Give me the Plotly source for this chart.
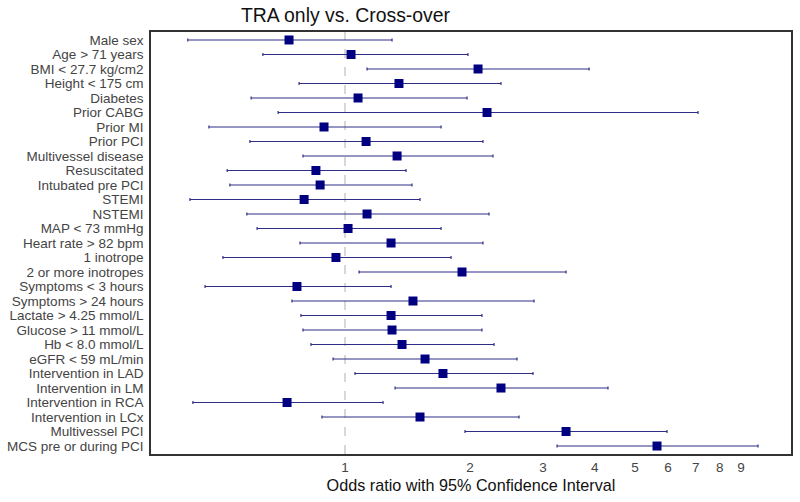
import plotly.graph_objects as go

labels = ["Male sex", "Age > 71 years", "BMI < 27.7 kg/cm2", "Height < 175 cm", "Diabetes",
          "Prior CABG", "Prior MI", "Prior PCI", "Multivessel disease", "Resuscitated",
          "Intubated pre PCI", "STEMI", "NSTEMI", "MAP < 73 mmHg", "Heart rate > 82 bpm",
          "1 inotrope", "2 or more inotropes", "Symptoms < 3 hours", "Symptoms > 24 hours",
          "Lactate > 4.25 mmol/L", "Glucose > 11 mmol/L", "Hb < 8.0 mmol/L", "eGFR < 59 mL/min",
          "Intervention in LAD", "Intervention in LM", "Intervention in RCA", "Intervention in LCx",
          "Multivessel PCI", "MCS pre or during PCI"]

odds = [0.733, 1.034, 2.092, 1.349, 1.075, 2.199, 0.890, 1.124, 1.335, 0.851,
        0.871, 0.797, 1.130, 1.017, 1.291, 0.951, 1.914, 0.766, 1.458,
        1.291, 1.298, 1.372, 1.559, 1.722, 2.376, 0.725, 1.516, 3.409, 5.647]
ci_low = [0.418, 0.634, 1.130, 0.775, 0.594, 0.690, 0.470, 0.590, 0.792, 0.520,
          0.528, 0.423, 0.580, 0.614, 0.779, 0.508, 1.081, 0.460, 0.745,
          0.783, 0.792, 0.828, 0.936, 1.057, 1.320, 0.430, 0.880, 1.946, 3.243]
ci_high = [1.298, 1.978, 3.873, 2.376, 1.968, 7.09, 1.704, 2.150, 2.273, 1.403,
           1.450, 1.516, 2.223, 1.704, 2.150, 1.801, 3.409, 1.291, 2.854,
           2.138, 2.138, 2.286, 2.597, 2.838, 4.302, 1.235, 2.626, 5.970, 9.89]

tick_vals = [1, 2, 3, 4, 5, 6, 7, 8, 9]
tick_text = ["1", "2", "3", "4", "5", "6", "7", "8", "9"]

err_plus = [h - o for h, o in zip(ci_high, odds)]
err_minus = [o - l for o, l in zip(odds, ci_low)]

FONT = "Liberation Sans, Arial, sans-serif"

fig = go.Figure()
fig.add_trace(go.Scatter(
    x=odds, y=labels, mode="markers",
    marker=dict(symbol="square", size=9, color="#000080"),
    error_x=dict(type="data", array=err_plus, arrayminus=err_minus,
                 color="#2e2e88", thickness=1.2, width=1.5),
    showlegend=False, hoverinfo="x+y",
))

fig.add_shape(type="line", xref="x", yref="paper", x0=1, x1=1, y0=0, y1=1,
              line=dict(color="#b0b0b0", width=1, dash="dash"), layer="below")

fig.update_layout(
    width=800, height=502,
    margin=dict(l=151, r=9, t=32, b=48),
    paper_bgcolor="white", plot_bgcolor="white",
    font=dict(family=FONT, color="#333333"),
    title=dict(text="TRA only vs. Cross-over", x=345.5/800, xanchor="center",
               y=1 - 15/502, yanchor="middle", yref="container",
               font=dict(size=19.4, color="#111111", family=FONT)),
)
fig.update_xaxes(type="log", range=[-0.4675, 1.0747], tickvals=tick_vals, ticktext=tick_text,
                 showgrid=False, zeroline=False, showline=True, mirror=True,
                 linecolor="#333333", linewidth=1.5, ticks="", automargin=False,
                 tickfont=dict(size=13.5, color="#444444"),
                 title=dict(text="Odds ratio with 95% Confidence Interval", standoff=6,
                            font=dict(size=16.2, color="#111111")))
fig.update_yaxes(categoryorder="array", categoryarray=labels, autorange=False,
                 tickmode="array", tickvals=labels,
                 range=[28.55, -0.55], showgrid=False, zeroline=False,
                 showline=True, mirror=True, linecolor="#333333", linewidth=1.5,
                 ticks="", ticklabelstandoff=3, automargin=False,
                 tickfont=dict(size=13.5, color="#444444"))

fig.write_html("out.html", config={"displayModeBar": False},
               post_script="document.body.style.margin='0';")
